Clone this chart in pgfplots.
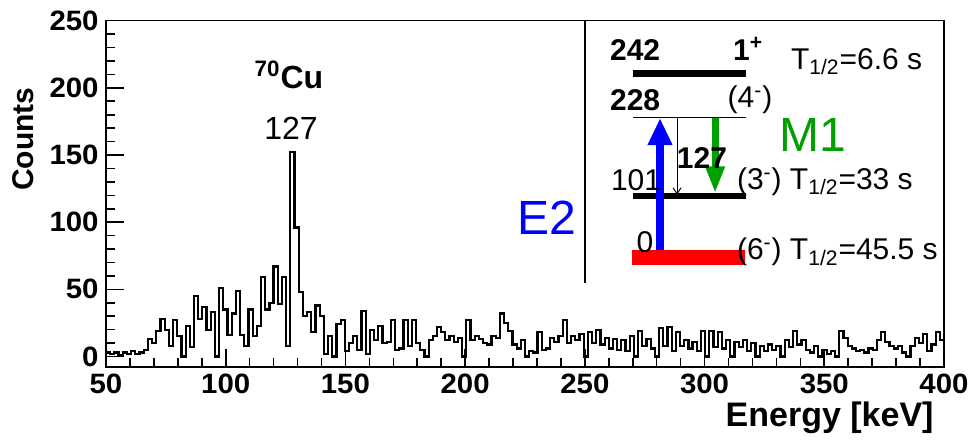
\documentclass[border=0pt]{standalone}
\usepackage{pgfplots}
\pgfplotsset{compat=1.18}
\usepackage{fontspec}
\setmainfont{Liberation Sans}
\usetikzlibrary{arrows.meta}
\definecolor{eblue}{RGB}{0,0,255}
\definecolor{mgreen}{RGB}{0,160,0}
\definecolor{gred}{RGB}{255,0,0}
\begin{document}
\begin{tikzpicture}
\path[use as bounding box] (-53pt,-38pt) rectangle (432.5pt,183.5pt);
\begin{axis}[
  at={(0pt,0pt)}, anchor=south west,
  scale only axis, width=419pt, height=173.15pt,
  xmin=50, xmax=400, ymin=-7.8, ymax=250,
  xtick={50,100,...,400}, ytick={0,50,...,250},
  minor x tick num=4, minor y tick num=4,
  tick pos=left, tick align=inside,
  major tick length=9pt, minor tick length=4.5pt,
  axis line style={line width=0.8pt},
  every tick/.style={black, line width=0.8pt},
  tick label style={font=\fontsize{14}{15}\selectfont\bfseries, xscale=1.05},
  /pgf/number format/assume math mode=true,
  ylabel={Counts}, xlabel={Energy [keV]},
  every axis y label/.style={at={(axis description cs:-0.099,0.658)},rotate=90,anchor=center,font=\fontsize{15}{16}\selectfont\bfseries},
  every axis x label/.style={at={(axis description cs:0.996,-0.173)},anchor=base east,font=\fontsize{17}{18}\selectfont\bfseries},
  clip=false,
]
\addplot[const plot mark left, black, line width=1.1pt] table[row sep=\\] {
x y\\
50 3\\ 51.75 2\\ 53.5 3\\ 55.25 1\\ 57 3\\ 58.75 2\\ 60.5 4\\ 62.25 2\\ 64 3\\ 65.75 5\\
67.5 13\\ 69.25 10\\ 71 19\\ 72.75 28\\ 74.5 20\\ 76.25 8\\ 78 27\\ 79.75 15\\ 81.5 0\\ 83.25 23\\
85 7\\ 86.75 45\\ 88.5 28\\ 90.25 37\\ 92 20\\ 93.75 33\\ 95.5 0\\ 97.25 51\\ 99 35\\ 100.75 16\\
102.5 32\\ 104.25 49\\ 106 16\\ 107.75 8\\ 109.5 35\\ 111.25 15\\ 113 23\\ 114.75 59\\ 116.5 35\\ 118.25 40\\
120 67\\ 121.75 39\\ 123.5 59\\ 125.25 8\\ 127 152\\ 128.75 96\\ 130.5 48\\ 132.25 30\\ 134 33\\ 135.75 18\\
137.5 38\\ 139.25 30\\ 141 2\\ 142.75 15\\ 144.5 0\\ 146.25 24\\ 148 27\\ 149.75 4\\ 151.5 10\\ 153.25 15\\
155 5\\ 156.75 34\\ 158.5 2\\ 160.25 20\\ 162 12\\ 163.75 23\\ 165.5 10\\ 167.25 11\\ 169 27\\ 170.75 5\\
172.5 6\\ 174.25 27\\ 176 8\\ 177.75 27\\ 179.5 10\\ 181.25 5\\ 183 0\\ 184.75 12\\ 186.5 15\\ 188.25 22\\
190 18\\ 191.75 12\\ 193.5 15\\ 195.25 11\\ 197 14\\ 198.75 0\\ 200.5 27\\ 202.25 12\\ 204 15\\ 205.75 13\\
207.5 10\\ 209.25 9\\ 211 15\\ 212.75 14\\ 214.5 32\\ 216.25 25\\ 218 19\\ 219.75 9\\ 221.5 6\\ 223.25 12\\
225 0\\ 226.75 4\\ 228.5 3\\ 230.25 18\\ 232 5\\ 233.75 6\\ 235.5 14\\ 237.25 11\\ 239 15\\ 240.75 27\\
242.5 10\\ 244.25 15\\ 246 12\\ 247.75 17\\ 249.5 0\\ 251.25 18\\ 253 10\\ 254.75 20\\ 256.5 9\\ 258.25 14\\
260 6\\ 261.75 13\\ 263.5 5\\ 265.25 12\\ 267 4\\ 268.75 15\\ 270.5 0\\ 272.25 19\\ 274 8\\ 275.75 13\\
277.5 6\\ 279.25 0\\ 281 21\\ 282.75 8\\ 284.5 22\\ 286.25 4\\ 288 18\\ 289.75 8\\ 291.5 12\\ 293.25 6\\
295 11\\ 296.75 4\\ 298.5 19\\ 300.25 0\\ 302 19\\ 303.75 7\\ 305.5 18\\ 307.25 6\\ 309 12\\ 310.75 0\\
312.5 11\\ 314.25 7\\ 316 12\\ 317.75 4\\ 319.5 10\\ 321.25 0\\ 323 8\\ 324.75 4\\ 326.5 9\\ 328.25 5\\
330 8\\ 331.75 0\\ 333.5 12\\ 335.25 7\\ 337 19\\ 338.75 9\\ 340.5 12\\ 342.25 5\\ 344 3\\ 345.75 8\\
347.5 0\\ 349.25 5\\ 351 2\\ 352.75 4\\ 354.5 0\\ 356.25 19\\ 358 14\\ 359.75 8\\ 361.5 6\\ 363.25 4\\
365 5\\ 366.75 3\\ 368.5 6\\ 370.25 5\\ 372 12\\ 373.75 18\\ 375.5 11\\ 377.25 8\\ 379 6\\ 380.75 8\\
382.5 3\\ 384.25 0\\ 386 8\\ 387.75 14\\ 389.5 10\\ 391.25 17\\ 393 4\\ 394.75 9\\ 396.5 18\\ 398.25 12\\
400 12\\
};
% peak labels
\node[font=\fontsize{16}{17}\selectfont\bfseries] at (axis cs:126.4,209.6) {\textsuperscript{70}Cu};
\node[font=\fontsize{16}{17}\selectfont] at (axis cs:127.3,170.1) {127};
% inset separator
\draw[line width=0.7pt] (axis cs:250.1,250) -- (axis cs:250.1,54.7);
% levels
\draw[line width=3.3pt] (axis cs:270.1,210.8) -- (axis cs:317.3,210.8);
\draw[line width=0.6pt] (axis cs:270.1,178) -- (axis cs:317.3,178);
\draw[line width=3pt] (axis cs:270.1,119.3) -- (axis cs:317.3,119.3);
\draw[gred, line width=7.5pt] (axis cs:269.6,73.7) -- (axis cs:316.9,73.7);
% transitions
\draw[line width=0.5pt, -{Straight Barb[length=3pt,width=4pt]}] (axis cs:288.5,178) -- (axis cs:288.5,120.5);
\draw[eblue, line width=3.8pt, -{Triangle[length=13.5pt,width=11.5pt]}] (axis cs:281.4,79.3) -- (axis cs:281.4,177.5);
\draw[mgreen, line width=3.5pt, -{Triangle[length=13.5pt,width=9pt]}] (axis cs:304.4,177.5) -- (axis cs:304.4,121.5);
% level labels
\begin{scope}[every node/.style={font=\fontsize{15}{16}\selectfont}]
\node[font=\fontsize{15}{16}\selectfont\bfseries] at (axis cs:271,228.2) {242};
\node[font=\fontsize{15}{16}\selectfont\bfseries] at (axis cs:318.2,229) {1\textsuperscript{+}};
\node[anchor=west] at (axis cs:333.2,219.3) {T\textsubscript{1/2}=6.6 s};
\node[font=\fontsize{15}{16}\selectfont\bfseries] at (axis cs:271,191) {228};
\node at (axis cs:319,191) {(4\textsuperscript{-})};
\node[font=\fontsize{15}{16}\selectfont\bfseries] at (axis cs:298.9,147.4) {127};
\node at (axis cs:271.4,131.4) {101};
\node[anchor=west] at (axis cs:310.6,130) {(3\textsuperscript{-}) T\textsubscript{1/2}=33 s};
\node at (axis cs:275.1,85.2) {0};
\node[anchor=west] at (axis cs:310.6,77.8) {(6\textsuperscript{-}) T\textsubscript{1/2}=45.5 s};
\end{scope}
\node[eblue, font=\fontsize{24}{25}\selectfont] at (axis cs:234.2,103.1) {E2};
\node[mgreen, font=\fontsize{24}{25}\selectfont] at (axis cs:345.3,164.9) {M1};
\end{axis}
\end{tikzpicture}
\end{document}
